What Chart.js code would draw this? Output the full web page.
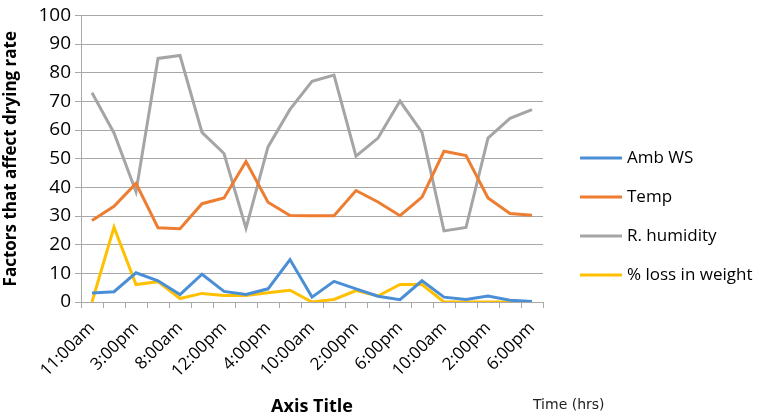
<!DOCTYPE html>
<html>
<head>
<meta charset="utf-8">
<script src="https://cdn.jsdelivr.net/npm/chart.js@4/dist/chart.umd.min.js"></script>
<style>
html,body{margin:0;padding:0;background:#fff;}
#wrap{width:765px;height:418px;position:relative;}
</style>
</head>
<body>
<div id="wrap"><canvas id="c" width="765" height="418"></canvas></div>
<script>
const categories = ["11:00am","1:00pm","3:00pm","6:00pm","8:00am","10:00am","12:00pm","2:00pm","4:00pm","6:00pm","10:00am","12:00pm","2:00pm","4:00pm","6:00pm","8:00am","10:00am","12:00pm","2:00pm","4:00pm","6:00pm"];
const ambWS = [3.1,3.6,10.2,7.4,2.6,9.7,3.7,2.6,4.6,14.8,1.7,7.2,4.6,2.0,0.8,7.4,1.7,0.9,2.1,0.6,0.2];
const temp = [28.4,33.4,41.4,25.9,25.6,34.3,36.3,49.0,34.8,30.2,30.1,30.1,38.9,34.9,30.1,36.6,52.6,51.1,36.3,30.9,30.3];
const humidity = [73,59,38.5,85,86,59.2,51.8,25.7,54.1,67.2,77,79.2,50.9,57.2,70.1,59.2,24.8,26,57.2,64.1,67.1];
const lossWeight = [0,26.1,6.1,7.1,1.2,3.0,2.3,2.3,3.2,4.1,0,0.9,4.0,2.1,6.1,6.1,0,0,0,0,0];
const seriesNames = ["Amb WS","Temp","R. humidity","% loss in weight"];
const seriesColors = ["#4a8fd6","#ed7d31","#a5a5a5","#ffc000"];
const yTicks = [0,10,20,30,40,50,60,70,80,90,100];

const FONT = "'Open Sans', 'Liberation Sans', sans-serif";
const gridColor = "#a8a8a8";

const customLegend = {
  id: 'customLegend',
  afterDraw(chart) {
    const ctx = chart.ctx;
    ctx.save();
    const ys = [158, 197, 236, 275];
    seriesNames.forEach((n, i) => {
      ctx.strokeStyle = seriesColors[i];
      ctx.lineWidth = 3;
      ctx.beginPath();
      ctx.moveTo(580, ys[i]);
      ctx.lineTo(622, ys[i]);
      ctx.stroke();
      ctx.fillStyle = "#000";
      ctx.font = "17px " + FONT;
      ctx.textBaseline = "middle";
      ctx.textAlign = "left";
      ctx.fillText(n, 627, ys[i]);
    });
    ctx.fillStyle = "#222";
    ctx.font = "14px 'DejaVu Sans', sans-serif";
    ctx.textBaseline = "middle";
    ctx.fillText("Time (hrs)", 533, 405);
    ctx.restore();
  }
};

const mk = (label, data, color) => ({
  label, data, borderColor: color, backgroundColor: color,
  borderWidth: 3, pointRadius: 0, tension: 0, fill: false
});

new Chart(document.getElementById('c'), {
  type: 'line',
  data: {
    labels: categories,
    datasets: [
      mk(seriesNames[0], ambWS, seriesColors[0]),
      mk(seriesNames[1], temp, seriesColors[1]),
      mk(seriesNames[2], humidity, seriesColors[2]),
      mk(seriesNames[3], lossWeight, seriesColors[3])
    ]
  },
  options: {
    responsive: false,
    animation: false,
    layout: { padding: { top: 10, right: 222, left: 0, bottom: 0 } },
    plugins: { legend: { display: false }, tooltip: { enabled: false } },
    scales: {
      x: {
        offset: true,
        grid: { offset: true, drawOnChartArea: false, drawTicks: true, tickLength: 6, color: gridColor, lineWidth: 1 },
        border: { color: gridColor, width: 1 },
        ticks: {
          autoSkip: false, maxRotation: 45, minRotation: 45, padding: 10,
          color: "#000", font: { family: FONT, size: 17 },
          callback: (v, i) => (i % 2 === 0 ? categories[i] : '')
        },
        title: { display: true, text: 'Axis Title', color: '#000', font: { family: FONT, size: 18, weight: 'bold' }, padding: { top: 0, bottom: 0 } },
        afterFit: (s) => { s.height = 116; }
      },
      y: {
        min: 0, max: 100,
        afterBuildTicks: (s) => { s.ticks = yTicks.map(v => ({ value: v })); },
        grid: { color: gridColor, lineWidth: 1, tickLength: 6 },
        border: { color: gridColor, width: 1 },
        ticks: { color: "#000", font: { family: FONT, size: 19 }, padding: 4 },
        title: { display: true, text: 'Factors that affect drying rate', color: '#000', font: { family: FONT, size: 17, weight: 'bold' }, padding: { top: 1, bottom: 4 } },
        afterFit: (s) => { s.width = 81; }
      }
    }
  },
  plugins: [customLegend]
});
</script>
</body>
</html>
